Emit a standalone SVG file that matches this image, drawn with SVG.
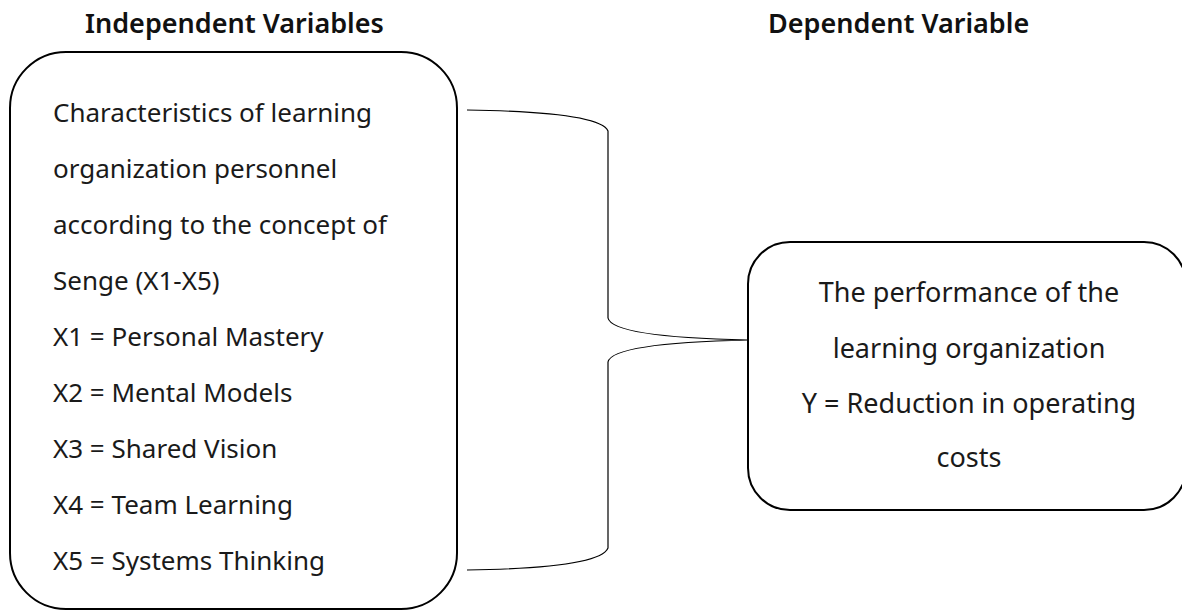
<svg xmlns="http://www.w3.org/2000/svg" width="1182" height="611" viewBox="0 0 1182 611">
<style>
.box{fill:#fff;stroke:#000;stroke-width:2}
.conn{fill:none;stroke:#000;stroke-width:1.2}
.t{font-family:"Noto Sans","Open Sans",sans-serif;font-size:26px;fill:#1a1a1a}
.r{font-family:"Noto Sans","Open Sans",sans-serif;font-size:27px;fill:#1a1a1a}
.h{font-family:"Noto Sans","Open Sans",sans-serif;font-size:27px;font-weight:600;fill:#111}
</style>
<rect width="1182" height="611" fill="#fff"/>
<g id="headers">
<text class="h" x="85" y="33">Independent Variables</text>
<text class="h" x="768" y="33">Dependent Variable</text>
</g>
<g id="independent">
<rect class="box" x="10" y="52" width="447" height="557" rx="56" ry="56"/>
<text class="t" x="53" y="122">Characteristics of learning</text>
<text class="t" x="53" y="178">organization personnel</text>
<text class="t" x="53" y="234">according to the concept of</text>
<text class="t" x="53" y="290">Senge (X1-X5)</text>
<text class="t" x="53" y="346">X1 = Personal Mastery</text>
<text class="t" x="53" y="402">X2 = Mental Models</text>
<text class="t" x="53" y="458">X3 = Shared Vision</text>
<text class="t" x="53" y="514">X4 = Team Learning</text>
<text class="t" x="53" y="570">X5 = Systems Thinking</text>
</g>
<g id="dependent">
<rect class="box" x="748" y="242" width="438" height="268" rx="42" ry="42"/>
<g text-anchor="middle">
<text class="r" x="969" y="302">The performance of the</text>
<text class="r" x="969" y="358">learning organization</text>
<text class="r" x="969" y="413">Y = Reduction in operating</text>
<text class="r" x="969" y="467">costs</text>
</g>
</g>
<g id="connectors">
<path class="conn" d="M467,110 Q600,112 608,131 L608,318 Q612,337 748,340 Q612,343 608,362 L608,548 Q600,568 467,570"/>
</g>
</svg>
